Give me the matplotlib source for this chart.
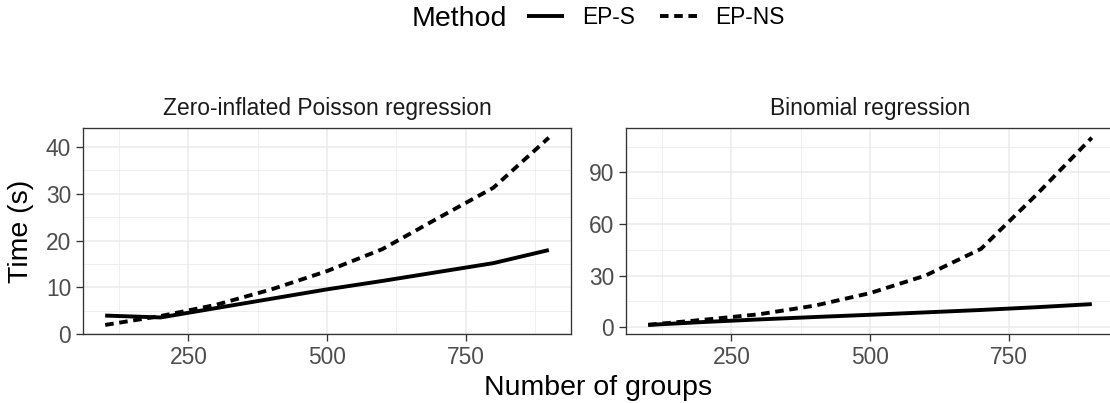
import matplotlib
matplotlib.use("Agg")
import matplotlib.pyplot as plt
from matplotlib.lines import Line2D
from matplotlib.ticker import FixedLocator

plt.rcParams['font.family'] = ['Liberation Sans', 'DejaVu Sans']

groups = [100, 200, 300, 400, 500, 600, 700, 800, 900]
panel_titles = ["Zero-inflated Poisson regression", "Binomial regression"]
method_labels = ["EP-S", "EP-NS"]

zip_eps = [4.0, 3.6, 5.6, 7.6, 9.6, 11.4, 13.3, 15.2, 18.0]
zip_epns = [2.0, 3.9, 6.3, 9.6, 13.5, 18.2, 24.8, 31.3, 42.0]
bin_eps = [1.3, 3.0, 4.5, 5.9, 7.2, 8.6, 10.0, 11.6, 13.4]
bin_epns = [1.4, 4.3, 7.5, 12.5, 19.8, 30.0, 45.5, 77.0, 110.2]

x_major = [250, 500, 750]
x_minor = [125, 375, 625, 875]
y_major = [[0, 10, 20, 30, 40], [0, 30, 60, 90]]
y_minor = [[5, 15, 25, 35], [15, 45, 75, 105]]

W, H = 1110, 403
fig = plt.figure(figsize=(W / 100, H / 100), dpi=100)

top_px, bot_px = 128.3, 334.3
pw = 488
lefts = [83, 626]
LW = 2.8
DASH = (2.2, 1.45)
TICK_FS = 16.4
TITLE_FS = 20.5

series = [(zip_eps, zip_epns), (bin_eps, bin_epns)]
for i, (s, ns) in enumerate(series):
    ax = fig.add_axes([lefts[i] / W, 1 - bot_px / H, pw / W, (bot_px - top_px) / H])
    ax.set_axisbelow(True)
    ax.plot(groups, s, color="black", lw=LW, solid_capstyle="butt", zorder=3)
    ax.plot(groups, ns, color="black", lw=LW, linestyle=(0, DASH),
            dash_capstyle="butt", zorder=3)
    ax.margins(x=0.05, y=0.05)
    ax.xaxis.set_major_locator(FixedLocator(x_major))
    ax.xaxis.set_minor_locator(FixedLocator(x_minor))
    ax.yaxis.set_major_locator(FixedLocator(y_major[i]))
    ax.yaxis.set_minor_locator(FixedLocator(y_minor[i]))
    ax.grid(which="major", color="#EBEBEB", lw=1.1)
    ax.grid(which="minor", color="#EBEBEB", lw=0.55)
    for sp in ax.spines.values():
        sp.set_color("#333333")
        sp.set_linewidth(0.95)
    ax.tick_params(which="major", length=5, width=0.95, color="#333333",
                   labelsize=TICK_FS, labelcolor="#4D4D4D", pad=3.5)
    ax.tick_params(which="minor", length=0)
    ax.set_title(panel_titles[i], fontsize=TICK_FS, color="#1A1A1A", pad=9.5)

fig.text(598.5 / W, 1 - 395 / H, "Number of groups", fontsize=TITLE_FS,
         ha="center", va="baseline", color="black")
fig.text(21 / W, 1 - 231.3 / H, "Time (s)", fontsize=TITLE_FS, rotation=90,
         ha="center", va="center", color="black")

# legend
fig.text(412 / W, 1 - 25.5 / H, "Method", fontsize=TITLE_FS, ha="left",
         va="baseline", color="black")
handles = [Line2D([], [], color="black", lw=LW, solid_capstyle="butt"),
           Line2D([], [], color="black", lw=LW, linestyle=(0, DASH),
                  dash_capstyle="butt")]
fig.legend(handles, method_labels, loc="center left",
           bbox_to_anchor=(527 / W, 1 - 17.5 / H), ncol=2, frameon=False,
           fontsize=TICK_FS, handlelength=1.62, handletextpad=0.8,
           columnspacing=1.1, borderpad=0, borderaxespad=0)

fig.savefig("out.png", dpi=100)
